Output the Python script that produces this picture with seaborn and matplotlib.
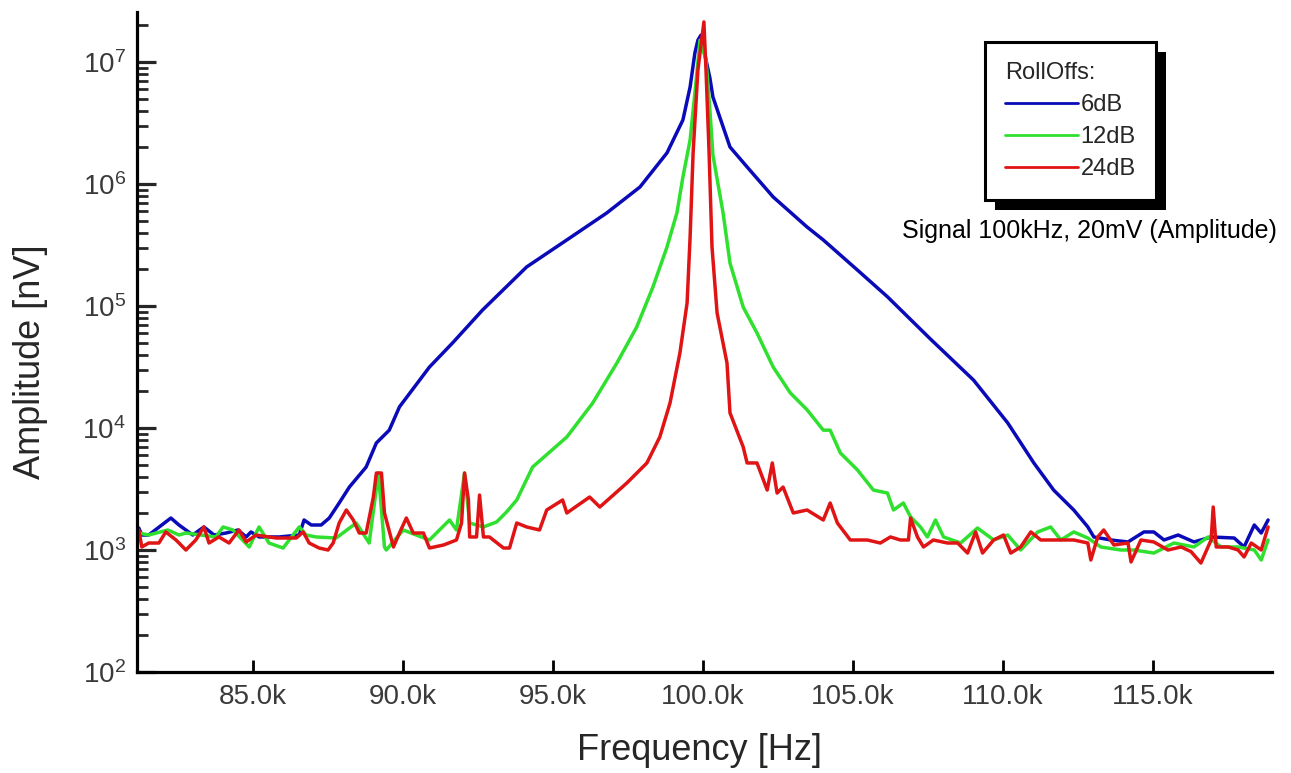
import numpy as np
import pandas as pd
import seaborn as sns
import matplotlib
matplotlib.use("Agg")
import matplotlib.pyplot as plt
from matplotlib.lines import Line2D
from matplotlib import patheffects as pe
from matplotlib.ticker import FixedLocator, FuncFormatter, LogLocator, NullFormatter

# ---------------- data (frequency in kHz, amplitude in nV) ----------------
freq_6db = [81.19, 81.29, 81.52, 82.26, 82.53, 82.99, 83.36, 83.70, 84.10, 84.50,
            84.77, 84.93, 85.20, 85.87, 86.54, 86.70, 86.94, 87.27, 87.54, 87.87,
            88.21, 88.77, 89.11, 89.54, 89.88, 90.88, 91.65, 92.65, 94.12, 95.46,
            96.79, 97.90, 98.80, 99.33, 99.57, 99.73, 99.83, 99.93, 100.10, 100.23,
            100.33, 100.90, 101.47, 102.34, 103.47, 104.01, 105.15, 106.15, 107.58, 109.02,
            110.16, 111.03, 111.69, 112.36, 112.83, 113.03, 113.60, 114.17, 114.70, 115.03,
            115.37, 115.84, 116.37, 116.94, 117.71, 118.04, 118.38, 118.61, 118.84]
amp_6db = [1515, 1327, 1327, 1829, 1603, 1327, 1545, 1327, 1378, 1459,
           1279, 1406, 1279, 1279, 1327, 1762, 1603, 1603, 1829, 2428,
           3280, 4790, 7540, 9600, 1.49e4, 3.16e4, 4.98e4, 9.27e4, 2.09e5, 3.48e5,
           5.79e5, 9.46e5, 1.80e6, 3.35e6, 6.24e6, 1.19e7, 1.51e7, 1.66e7, 1.04e7, 7.4e6,
           5.17e6, 2.01e6, 1.38e6, 7.83e5, 4.44e5, 3.48e5, 1.97e5, 1.19e5, 5.37e4, 2.47e4,
           1.10e4, 5.17e3, 3.10e3, 2128, 1545, 1279, 1208, 1164, 1406, 1406,
           1208, 1327, 1164, 1279, 1254, 1059, 1603, 1378, 1762]

freq_12db = [81.19, 81.52, 82.16, 82.53, 82.76, 83.76, 84.00, 84.33, 84.87, 85.20,
             85.53, 86.00, 86.54, 86.77, 87.10, 87.77, 88.44, 88.87, 89.18, 89.38,
             89.44, 90.01, 90.44, 90.88, 91.55, 91.78, 92.05, 92.22, 92.68, 93.12,
             93.45, 93.79, 94.32, 95.46, 96.32, 97.13, 97.79, 98.33, 98.80, 99.13,
             99.33, 99.57, 99.73, 99.90, 100.10, 100.23, 100.33, 100.67, 100.90, 101.34,
             101.80, 102.34, 102.91, 103.47, 104.01, 104.24, 104.58, 105.15, 105.68, 106.15,
             106.35, 106.68, 106.92, 107.25, 107.48, 107.75, 108.02, 108.59, 109.15, 109.69,
             110.16, 110.59, 111.16, 111.59, 111.93, 112.36, 112.83, 113.26, 113.93, 114.37,
             115.03, 115.70, 116.37, 116.84, 117.27, 117.84, 118.38, 118.61, 118.84]
amp_12db = [1378, 1327, 1459, 1327, 1378, 1279, 1545, 1459, 1059, 1545,
            1141, 1038, 1545, 1327, 1279, 1254, 1665, 1141, 4276, 1059,
            1000, 1459, 1327, 1208, 1762, 1459, 4276, 1665, 1545, 1698,
            2049, 2570, 4790, 8440, 1.60e4, 3.41e4, 6.73e4, 1.43e5, 3.05e5, 5.79e5,
            1.14e6, 2.30e6, 5.57e6, 1.51e7, 1.04e7, 4.04e6, 1.73e6, 5.79e5, 2.25e5, 9.8e4,
            6.01e4, 3.16e4, 1.94e4, 1.41e4, 9.6e3, 9.6e3, 6.24e3, 4.53e3, 3.10e3, 2.93e3,
            2128, 2428, 1870, 1545, 1279, 1762, 1279, 1141, 1515, 1208,
            1327, 1000, 1406, 1545, 1208, 1406, 1254, 1059, 1000, 1000,
            944, 1141, 1059, 1279, 1059, 1059, 1000, 828, 1208]

freq_24db = [81.19, 81.29, 81.52, 81.86, 82.09, 82.43, 82.76, 83.09, 83.36, 83.53,
             83.86, 84.20, 84.53, 84.77, 85.10, 85.77, 86.44, 86.67, 86.87, 87.20,
             87.50, 87.67, 87.87, 88.11, 88.34, 88.54, 88.77, 89.01, 89.11, 89.28,
             89.38, 89.68, 89.88, 90.11, 90.34, 90.68, 90.88, 91.35, 91.78, 91.95,
             92.05, 92.18, 92.22, 92.45, 92.55, 92.68, 92.88, 93.35, 93.55, 93.79,
             94.12, 94.55, 94.79, 95.32, 95.46, 96.22, 96.56, 97.46, 98.13, 98.56,
             98.90, 99.23, 99.47, 99.57, 99.67, 99.83, 100.03, 100.10, 100.20, 100.30,
             100.47, 100.80, 100.90, 101.34, 101.47, 101.80, 102.14, 102.31, 102.47, 102.67,
             103.01, 103.47, 104.01, 104.24, 104.48, 104.91, 105.48, 105.91, 106.25, 106.58,
             106.85, 106.92, 107.15, 107.35, 107.68, 108.15, 108.49, 108.82, 109.09, 109.32,
             109.69, 110.02, 110.26, 110.59, 110.93, 111.26, 111.93, 112.36, 112.83, 112.93,
             113.16, 113.36, 113.70, 114.17, 114.27, 114.60, 115.03, 115.50, 115.94, 116.27,
             116.60, 116.94, 117.01, 117.11, 117.51, 117.84, 118.04, 118.28, 118.61, 118.71,
             118.84]
amp_24db = [1459, 1059, 1141, 1141, 1406, 1208, 1000, 1208, 1545, 1141,
            1279, 1141, 1459, 1164, 1327, 1254, 1254, 1406, 1141, 1038,
            1000, 1141, 1665, 2128, 1762, 1378, 1378, 2718, 4276, 4276,
            2011, 1059, 1378, 1829, 1378, 1378, 1038, 1099, 1208, 1665,
            4276, 2570, 1279, 1279, 2820, 1279, 1279, 1038, 1038, 1665,
            1545, 1459, 2128, 2570, 2011, 2718, 2251, 3540, 5170, 8440,
            1.60e4, 4.12e4, 1.06e5, 3.68e5, 1.80e6, 8.6e6, 2.13e7, 8.6e6, 1.90e6, 3.05e5,
            8.77e4, 3.41e4, 1.33e4, 6.99e3, 5.17e3, 5.17e3, 3.10e3, 5.17e3, 2.93e3, 3.28e3,
            2011, 2128, 1762, 2428, 1665, 1208, 1208, 1141, 1279, 1208,
            1208, 1829, 1279, 1059, 1208, 1141, 1141, 944, 1406, 944,
            1208, 1327, 944, 1059, 1406, 1208, 1208, 1208, 1141, 828,
            1279, 1459, 1099, 1141, 798, 1208, 1164, 1000, 1059, 970,
            782, 1208, 2251, 1059, 1059, 1000, 877, 1141, 1000, 1208,
            1545]

series_labels = ["6dB", "12dB", "24dB"]
series_colors = ["#0a0ab8", "#2fe02f", "#e01414"]
x_ticks_khz = [85.0, 90.0, 95.0, 100.0, 105.0, 110.0, 115.0]

df = pd.concat([
    pd.DataFrame({"freq": freq_6db, "amp": amp_6db, "rolloff": "6dB"}),
    pd.DataFrame({"freq": freq_12db, "amp": amp_12db, "rolloff": "12dB"}),
    pd.DataFrame({"freq": freq_24db, "amp": amp_24db, "rolloff": "24dB"}),
], ignore_index=True)

# ---------------- style ----------------
sns.set_style("ticks")
plt.rcParams["font.family"] = ["Liberation Sans", "DejaVu Sans"]
plt.rcParams["mathtext.fontset"] = "custom"
plt.rcParams["mathtext.rm"] = "Liberation Sans"
plt.rcParams["mathtext.it"] = "Liberation Sans"

W, H = 1291, 773
fig = plt.figure(figsize=(W / 100, H / 100), dpi=100)
ax = fig.add_axes([137 / W, 1 - 672 / H, (1272 - 137) / W, (672 - 12) / H])

sns.lineplot(data=df, x="freq", y="amp", hue="rolloff",
             palette=dict(zip(series_labels, series_colors)),
             hue_order=series_labels, estimator=None, sort=False,
             linewidth=2.5, legend=False, ax=ax)

ax.set_yscale("log")
ax.set_xlim(81.13, 118.97)
ax.set_ylim(100, 10 ** 7.41)

for s in ["top", "right"]:
    ax.spines[s].set_visible(False)
for s in ["left", "bottom"]:
    ax.spines[s].set_linewidth(2.3)
    ax.spines[s].set_color("black")

ax.xaxis.set_major_locator(FixedLocator(x_ticks_khz))
ax.xaxis.set_major_formatter(FuncFormatter(lambda v, p: f"{v:.1f}k"))
ax.yaxis.set_major_locator(LogLocator(base=10, numticks=12))
ax.yaxis.set_minor_locator(LogLocator(base=10, subs=np.arange(2, 10), numticks=12))
ax.yaxis.set_minor_formatter(NullFormatter())

ax.tick_params(axis="x", which="major", direction="in", length=9, width=2,
               pad=9, labelsize=20, colors="black", labelcolor="#3a3a3a")
ax.tick_params(axis="y", which="major", direction="in", length=14, width=2.3,
               pad=8, labelsize=20, labelcolor="#3a3a3a")
ax.tick_params(axis="y", which="minor", direction="in", length=8, width=2.0)

ax.set_xlabel("Frequency [Hz]", fontsize=26)
ax.set_ylabel("Amplitude [nV]", fontsize=26)
ax.xaxis.set_label_coords(0.496, -0.092)
ax.yaxis.set_label_coords(-0.078, 0.47)

# legend
handles = [Line2D([], [], color=c, lw=2.0) for c in series_colors]
leg = ax.legend(handles, series_labels, title="RollOffs:",
                loc="upper left", bbox_to_anchor=(985 / W, 1 - 42 / H),
                bbox_transform=fig.transFigure, borderaxespad=0,
                frameon=True, fancybox=False, framealpha=1,
                edgecolor="black", facecolor="white",
                alignment="left", handlelength=3.1, handletextpad=0.1,
                labelspacing=0.42, borderpad=0.85, fontsize=17,
                title_fontsize=17)
leg.get_frame().set_linewidth(2.2)
leg.get_frame().set_path_effects([
    pe.SimplePatchShadow(offset=(7.5, -7), shadow_rgbFace="black", alpha=1.0),
    pe.Normal()])

fig.text(1089 / W, 1 - 231 / H, "Signal 100kHz, 20mV (Amplitude)",
         ha="center", va="center", fontsize=18, color="black")

fig.savefig("out.png", dpi=100)
